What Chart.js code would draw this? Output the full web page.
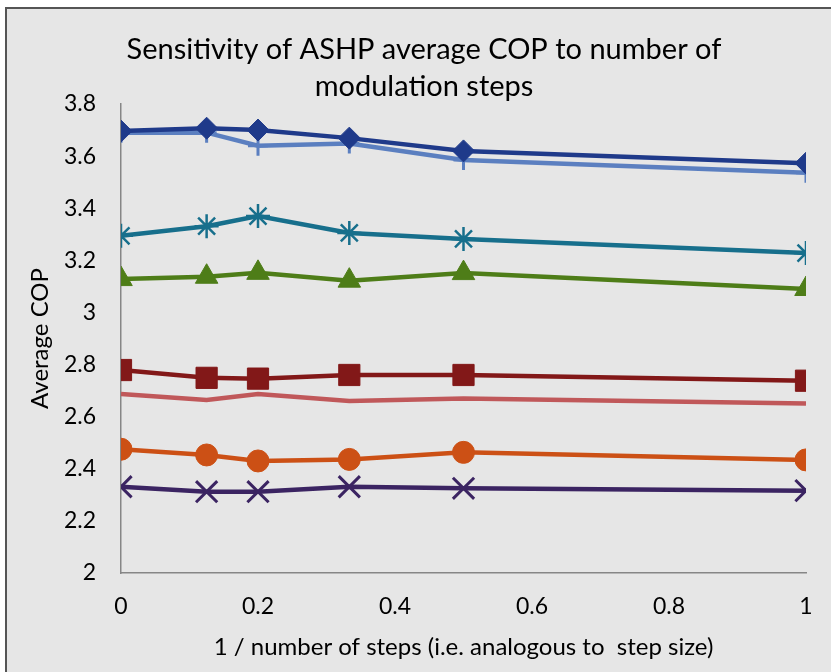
<!DOCTYPE html>
<html>
<head>
<meta charset="utf-8">
<script src="https://cdn.jsdelivr.net/npm/chart.js@4/dist/chart.umd.min.js"></script>
<style>
  html, body { margin: 0; padding: 0; background: #ffffff; overflow: hidden; }
  #frame { position: absolute; left: 5px; top: 7px; width: 900px; height: 720px; background: #e6e6e6; border: 2px solid #555555; box-sizing: border-box; }
  #wrap { position: absolute; left: 0; top: 0; width: 831px; height: 672px; }
</style>
</head>
<body>
<div id="frame"></div>
<div id="wrap"><canvas id="c" width="831" height="672"></canvas></div>
<script>
const xValues = [0, 0.125, 0.2, 0.3333, 0.5, 1];
const seriesDiamond = [3.696, 3.707, 3.700, 3.669, 3.620, 3.573];
const seriesPlus = [3.690, 3.690, 3.640, 3.648, 3.585, 3.536];
const seriesStar = [3.294, 3.331, 3.370, 3.305, 3.282, 3.228];
const seriesTriangle = [3.128, 3.137, 3.152, 3.122, 3.151, 3.090];
const seriesSquare = [2.779, 2.749, 2.746, 2.760, 2.760, 2.738];
const seriesPlain = [2.687, 2.664, 2.687, 2.660, 2.670, 2.651];
const seriesCircle = [2.475, 2.453, 2.430, 2.436, 2.463, 2.434];
const seriesCross = [2.331, 2.312, 2.312, 2.331, 2.325, 2.316];
const titleLines = ["Sensitivity of ASHP average COP to number of", "modulation steps"];
const xTitle = "1 / number of steps (i.e. analogous to  step size)";
const yTitle = "Average COP";

const FONT = "Lato, 'Open Sans', sans-serif";

function pts(ys) { return xValues.map((x, i) => ({ x: x, y: ys[i] })); }
function ds(data, color, style, radius, bw) {
  return {
    data: pts(data), borderColor: color, backgroundColor: color,
    pointStyle: style, pointRadius: radius, pointBorderWidth: bw,
    pointBorderColor: color, pointBackgroundColor: color,
    borderWidth: 4.5, tension: 0, fill: false
  };
}

const titlePlugin = {
  id: 'twoLineTitle',
  afterDraw(chart) {
    const ctx = chart.ctx;
    ctx.save();
    ctx.fillStyle = '#000000';
    ctx.font = "29px " + FONT;
    ctx.textAlign = 'center';
    ctx.textBaseline = 'middle';
    ctx.fillText(titleLines[0], 424, 50);
    ctx.fillText(titleLines[1], 424, 87);
    ctx.restore();
  }
};

new Chart(document.getElementById('c'), {
  type: 'line',
  data: {
    datasets: [
      ds(seriesDiamond, '#1f3a8a', 'rectRot', 11, 1),
      ds(seriesPlus, '#5b7fc0', 'cross', 10, 3),
      ds(seriesStar, '#176f8c', 'star', 12, 2.5),
      ds(seriesTriangle, '#4e7d18', 'triangle', 13, 1),
      ds(seriesSquare, '#821818', 'rect', 15, 1),
      ds(seriesPlain, '#c0585a', 'circle', 0, 0),
      ds(seriesCircle, '#cc5015', 'circle', 11, 1),
      ds(seriesCross, '#3b2462', 'crossRot', 15, 3)
    ]
  },
  plugins: [titlePlugin],
  options: {
    responsive: false,
    animation: false,
    layout: { padding: { left: 0, right: 25, top: 104, bottom: 10 } },
    plugins: {
      legend: { display: false },
      tooltip: { enabled: false },
      title: { display: false }
    },
    scales: {
      x: {
        type: 'linear', min: 0, max: 1,
        grid: { display: false, drawTicks: true, tickLength: 8, tickColor: '#868686' },
        border: { color: '#868686', width: 1.5 },
        ticks: { stepSize: 0.2, color: '#000', font: { family: FONT, size: 23 }, padding: 12,
                 callback: v => String(Math.round(v * 10) / 10) },
        title: { display: true, text: xTitle, color: '#000', font: { family: FONT, size: 24 }, padding: { top: 8, bottom: 0 } },
        afterFit: s => { s.height = 89; }
      },
      y: {
        min: 2, max: 3.8,
        grid: { display: false, drawTicks: true, tickLength: 8, tickColor: '#868686' },
        border: { color: '#868686', width: 1.5 },
        ticks: { stepSize: 0.2, color: '#000', font: { family: FONT, size: 23 }, padding: 17,
                 callback: v => String(Math.round(v * 10) / 10) },
        title: { display: true, text: yTitle, color: '#000', font: { family: FONT, size: 24 }, padding: { top: 26, bottom: 0 } },
        afterFit: s => { s.width = 121; }
      }
    }
  }
});
</script>
</body>
</html>
